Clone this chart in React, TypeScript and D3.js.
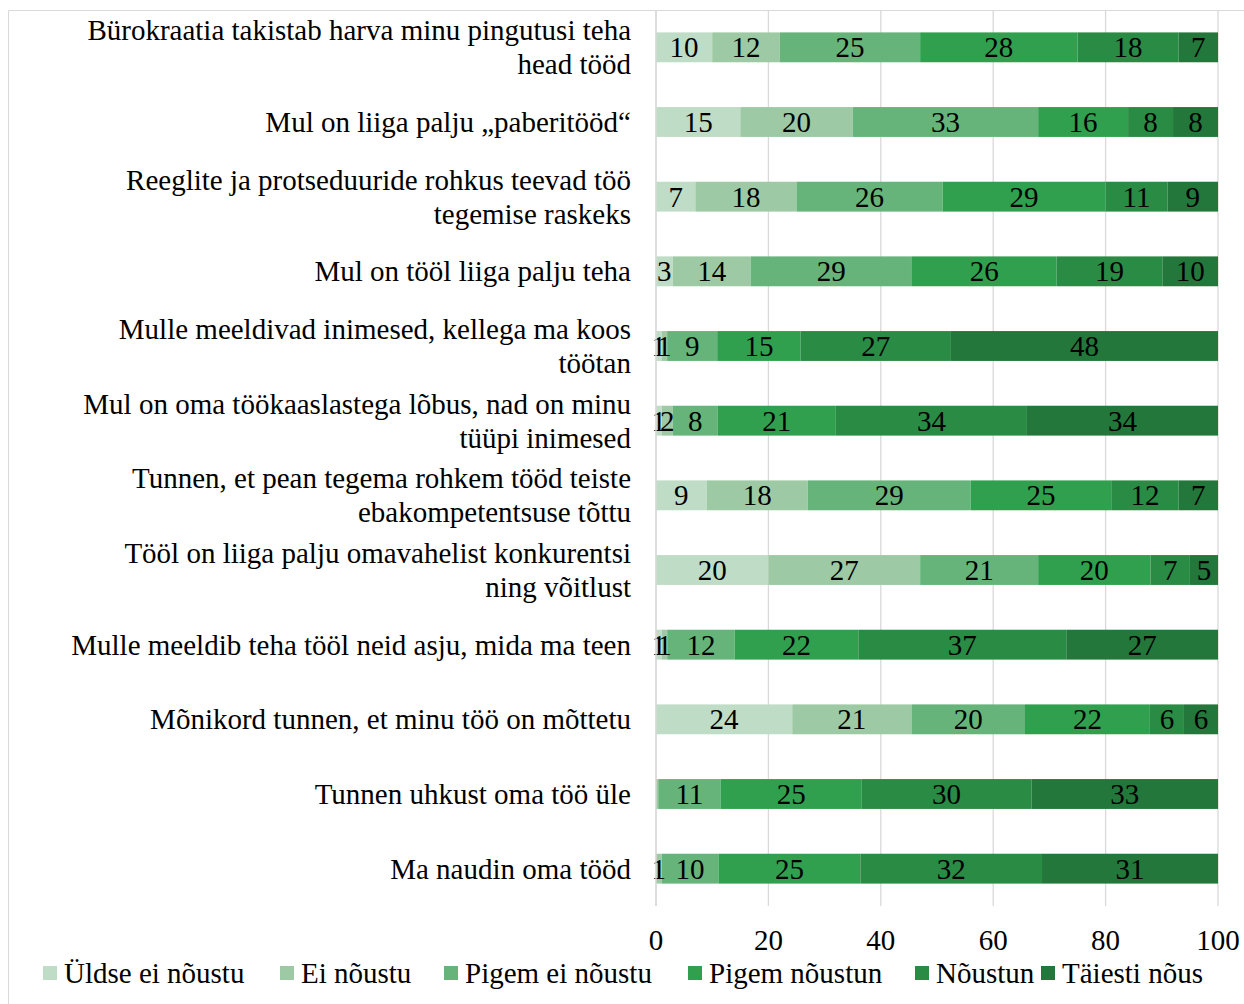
import React from "react";
import * as d3 from "d3";

const categories = [
  "Bürokraatia takistab harva minu pingutusi teha head tööd",
  "Mul on liiga palju „paberitööd“",
  "Reeglite ja protseduuride rohkus teevad töö tegemise raskeks",
  "Mul on tööl liiga palju teha",
  "Mulle meeldivad inimesed, kellega ma koos töötan",
  "Mul on oma töökaaslastega lõbus, nad on minu tüüpi inimesed",
  "Tunnen, et pean tegema rohkem tööd teiste ebakompetentsuse tõttu",
  "Tööl on liiga palju omavahelist konkurentsi ning võitlust",
  "Mulle meeldib teha tööl neid asju, mida ma teen",
  "Mõnikord tunnen, et minu töö on mõttetu",
  "Tunnen uhkust oma töö üle",
  "Ma naudin oma tööd",
];

// Line breaks used for the long category names
const categoryLines = [
  ["Bürokraatia takistab harva minu pingutusi teha", "head tööd"],
  ["Mul on liiga palju „paberitööd“"],
  ["Reeglite ja protseduuride rohkus teevad töö", "tegemise raskeks"],
  ["Mul on tööl liiga palju teha"],
  ["Mulle meeldivad inimesed, kellega ma koos", "töötan"],
  ["Mul on oma töökaaslastega lõbus, nad on minu", "tüüpi inimesed"],
  ["Tunnen, et pean tegema rohkem tööd teiste", "ebakompetentsuse tõttu"],
  ["Tööl on liiga palju omavahelist konkurentsi", "ning võitlust"],
  ["Mulle meeldib teha tööl neid asju, mida ma teen"],
  ["Mõnikord tunnen, et minu töö on mõttetu"],
  ["Tunnen uhkust oma töö üle"],
  ["Ma naudin oma tööd"],
];

const seriesNames = [
  "Üldse ei nõustu",
  "Ei nõustu",
  "Pigem ei nõustu",
  "Pigem nõustun",
  "Nõustun",
  "Täiesti nõus",
];

const uldseEiNoustu = [10, 15, 7, 3, 1, 1, 9, 20, 1, 24, 0, 0];
const eiNoustu = [12, 20, 18, 14, 1, 2, 18, 27, 1, 21, 0.4, 1];
const pigemEiNoustu = [25, 33, 26, 29, 9, 8, 29, 21, 12, 20, 11, 10];
const pigemNoustun = [28, 16, 29, 26, 15, 21, 25, 20, 22, 22, 25, 25];
const noustun = [18, 8, 11, 19, 27, 34, 12, 7, 37, 6, 30, 32];
const taiestiNous = [7, 8, 9, 10, 48, 34, 7, 5, 27, 6, 33, 31];

const xTicks = [0, 20, 40, 60, 80, 100];

const colors = ["#bfdcc6", "#9dcaa4", "#66b479", "#30a04f", "#2a8b45", "#23773a"];

const seriesValues = [uldseEiNoustu, eiNoustu, pigemEiNoustu, pigemNoustun, noustun, taiestiNous];

const rows = categories.map((c, i) => {
  const r: Record<string, any> = { category: c };
  seriesNames.forEach((s, j) => (r[s] = seriesValues[j][i]));
  return r;
});

const W = 1244;
const H = 1004;
const left = 656;
const right = 1218;
const top = 10;
const bottom = 906;
const FONT = '"Liberation Serif", "Times New Roman", Times, "Nimbus Roman", "DejaVu Serif", serif';

export default function App() {
  const stacked = d3
    .stack<any>()
    .keys(seriesNames)
    .offset(d3.stackOffsetExpand)(rows);

  const x = d3.scaleLinear().domain([0, 1]).range([left, right]);
  const y = d3.scaleBand().domain(categories).range([top, bottom]).paddingInner(0.6).paddingOuter(0.3);
  const yRow = d3.scaleBand().domain(categories).range([top, bottom]);
  const fmt = (v: number) => String(Math.round(v));

  const legendX = [43, 280, 444, 688, 915, 1041];
  const fs = 29;

  return (
    <svg width={W} height={H} style={{ position: "absolute", left: 0, top: 0, background: "#fff", fontFamily: FONT }}>
      <rect x={0} y={0} width={W} height={H} fill="#fff" />
      {/* chart frame */}
      <line x1={8.5} y1={10.5} x2={W} y2={10.5} stroke="#d9d9d9" />
      <line x1={8.5} y1={10.5} x2={8.5} y2={H} stroke="#d9d9d9" />

      {/* gridlines */}
      {xTicks.map((t) => (
        <line key={t} x1={x(t / 100)} x2={x(t / 100)} y1={top} y2={bottom} stroke="#d9d9d9" strokeWidth={1.3} />
      ))}

      {/* stacked bars */}
      {stacked.map((s, si) => (
        <g key={s.key} fill={colors[si]}>
          {s.map((d, i) => {
            const cat = categories[i];
            const w = x(d[1]) - x(d[0]);
            if (w <= 0) return null;
            return <rect key={cat} x={x(d[0])} y={y(cat)} width={w} height={y.bandwidth()} />;
          })}
        </g>
      ))}

      {/* value labels */}
      {stacked.map((s, si) => (
        <g key={s.key + "-lbl"} style={{ fontFamily: FONT, fontSize: fs }} textAnchor="middle" fill="#000">
          {s.map((d, i) => {
            const cat = categories[i];
            const v = seriesValues[si][i];
            if (Math.round(v) < 1) return null;
            const cx = (x(d[0]) + x(d[1])) / 2;
            return (
              <text key={cat} x={cx} y={(y(cat) as number) + y.bandwidth() / 2} dy="0.35em">
                {fmt(v)}
              </text>
            );
          })}
        </g>
      ))}

      {/* category axis line */}
      <line x1={left} x2={left} y1={top} y2={bottom} stroke="#d9d9d9" strokeWidth={1.3} />

      {/* category labels */}
      {categories.map((c, i) => {
        const lines = categoryLines[i];
        const cy = (yRow(c) as number) + yRow.bandwidth() / 2;
        const lh = 34;
        return (
          <text key={c} x={631} textAnchor="end" style={{ fontFamily: FONT, fontSize: fs }} fill="#000">
            {lines.map((l, k) => (
              <tspan key={k} x={631} y={cy + (k - (lines.length - 1) / 2) * lh} dy="0.35em">
                {l}
              </tspan>
            ))}
          </text>
        );
      })}

      {/* x tick labels */}
      {xTicks.map((t) => (
        <text key={t} x={x(t / 100)} y={940} dy="0.35em" textAnchor="middle" style={{ fontFamily: FONT, fontSize: fs }} fill="#000">
          {t}
        </text>
      ))}

      {/* legend */}
      {seriesNames.map((s, i) => (
        <g key={s} transform={`translate(${legendX[i]},973)`}>
          <rect x={0} y={-7} width={14} height={14} fill={colors[i]} />
          <text x={21} y={0} dy="0.35em" style={{ fontFamily: FONT, fontSize: fs }} fill="#000">
            {s}
          </text>
        </g>
      ))}
    </svg>
  );
}
